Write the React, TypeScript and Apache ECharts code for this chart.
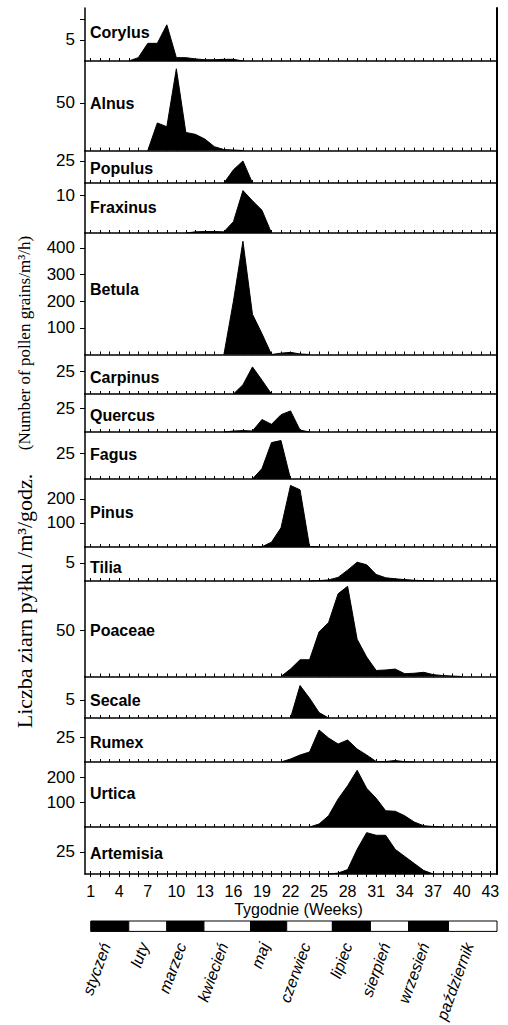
import React, { useEffect, useRef } from "react";
import * as echarts from "echarts";

// ---------- data ----------
const speciesNames = [
  "Corylus", "Alnus", "Populus", "Fraxinus", "Betula", "Carpinus", "Quercus", "Fagus",
  "Pinus", "Tilia", "Poaceae", "Secale", "Rumex", "Urtica", "Artemisia",
];
// first week of each values list
const startWeeks = [5, 7, 15, 11, 15, 16, 15, 18, 18, 24, 21, 22, 21, 24, 26];

const corylus = [0, 0.8, 4.2, 4.2, 8.6, 0.8, 0.8, 0.5, 0.3, 0.3, 0.4, 0.4, 0];
const alnus = [0, 29, 25, 86, 19, 17, 12, 4, 1, 0.5, 0];
const populus = [0, 15, 25, 0];
const fraxinus = [0, 0.3, 0.4, 0.4, 0.3, 3, 11.2, 8.5, 6, 0];
const betula = [0, 200, 425, 151, 78, 0, 5, 8, 2, 0];
const carpinus = [0, 10, 29.5, 15, 0];
const quercus = [0, 1, 1.5, 1, 13, 8, 18, 22, 2, 0];
const fagus = [0, 10, 35, 37, 0];
const pinus = [0, 1, 20, 80, 256, 238, 2, 0];
const tilia = [0, 0.1, 0.3, 1, 3, 5.2, 4.5, 1.8, 0.9, 0.6, 0.4, 0.2, 0.1, 0];
const poaceae = [0, 8, 18, 18, 48, 58, 89, 97, 40, 21, 6.5, 7, 8, 3, 3.5, 4.5, 2, 1, 0.5, 0];
const secale = [0, 9, 5.5, 1.5, 0];
const rumex = [0, 3, 7, 10, 32, 24, 18, 22, 13, 7, 0.5, 0.5, 1.5, 0.3, 0];
const urtica = [0, 12, 45, 112, 165, 227, 155, 115, 65, 63, 45, 20, 5, 2, 0];
const artemisia = [0, 1, 5, 28, 47, 44, 44, 28, 20, 12, 4, 0];

const speciesValues = [
  corylus, alnus, populus, fraxinus, betula, carpinus, quercus, fagus,
  pinus, tilia, poaceae, secale, rumex, urtica, artemisia,
];

// y-axis labels / ticks / max of each panel
const yLabelValues = [[5], [50], [25], [10], [100, 200, 300, 400], [25], [25], [25], [100, 200], [5], [50], [5], [25], [100, 200], [25]];
const yTickValues = [[5, 10], [50], [25], [10], [100, 200, 300, 400], [25], [25], [25], [100, 200], [5], [50], [5], [25], [100, 200], [25]];
const yMax = [12.6, 94.2, 36.9, 13.2, 456, 43, 39.6, 45.2, 283, 9.4, 102.7, 11.5, 44, 260, 53.4];

const weekTicks = Array.from({ length: 43 }, (_, i) => i + 1);
const weekLabels = [1, 4, 7, 10, 13, 16, 19, 22, 25, 28, 31, 34, 37, 40, 43];

const months = ["styczeń", "luty", "marzec", "kwiecień", "maj", "czerwiec", "lipiec", "sierpień", "wrzesień", "październik"];
const monthEdges = [1, 5, 9, 12.9, 17.8, 21.6, 26.4, 30.4, 34.4, 38.6, 43.7];

// ---------- layout ----------
const TOP = 8;
const baselines = [61, 150.5, 183, 233, 354.5, 394, 432, 479, 547, 581, 676.5, 718, 762, 827, 874];
const LEFT = 85;
const WIDTH = 412;
const XMIN = 0.4;
const XMAX = 43.7;
const labelCenters = [32, 103, 168, 207, 289, 377, 415, 454, 512, 567, 630, 700, 742, 793, 853];

const SANS = "Liberation Sans";
const SERIF = "Liberation Serif";

export default function App() {
  const ref = useRef<HTMLDivElement>(null);

  useEffect(() => {
    if (!ref.current) return;
    const chart = echarts.init(ref.current, null, { renderer: "svg" });

    const grids: any[] = [];
    const xAxes: any[] = [];
    const yAxes: any[] = [];
    const series: any[] = [];
    const graphics: any[] = [];
    const n = speciesNames.length;

    speciesNames.forEach((name, i) => {
      const top = i === 0 ? TOP : baselines[i - 1];
      const h = baselines[i] - top;
      grids.push({ left: LEFT, top, width: WIDTH, height: h, containLabel: false });
      xAxes.push({
        type: "value",
        gridIndex: i,
        min: XMIN,
        max: XMAX,
        axisLine: { show: true, onZero: false, lineStyle: { color: "#000", width: 1.5 } },
        axisTick: { show: true, inside: true, length: 3, customValues: weekTicks, lineStyle: { color: "#000", width: 1 } },
        axisLabel: { show: false },
        splitLine: { show: false },
      });
      yAxes.push({
        type: "value",
        gridIndex: i,
        min: 0,
        max: yMax[i],
        position: "left",
        axisLine: { show: true, lineStyle: { color: "#000", width: 1.5 } },
        axisTick: { show: true, length: 5, customValues: yTickValues[i], lineStyle: { color: "#000", width: 1 } },
        axisLabel: {
          show: true,
          customValues: yLabelValues[i],
          margin: 10,
          fontSize: 17,
          fontFamily: SANS,
          color: "#000",
        },
        splitLine: { show: false },
      });
      yAxes.push({
        type: "value",
        gridIndex: i,
        min: 0,
        max: yMax[i],
        position: "right",
        axisLine: { show: true, lineStyle: { color: "#000", width: 2 } },
        axisTick: { show: false },
        axisLabel: { show: false },
        splitLine: { show: false },
      });
      const vals = speciesValues[i];
      series.push({
        type: "line",
        xAxisIndex: i,
        yAxisIndex: 2 * i,
        data: vals.map((v, k) => [startWeeks[i] + k, v]),
        symbol: "none",
        silent: true,
        lineStyle: { color: "#000", width: 1 },
        areaStyle: { color: "#000", opacity: 1 },
      });
      graphics.push({
        type: "text",
        x: 90,
        y: labelCenters[i],
        style: {
          text: name,
          fontSize: 16,
          fontWeight: "bold",
          fontFamily: SANS,
          fill: "#000",
          verticalAlign: "middle",
          align: "left",
        },
      });
    });

    // bottom panel: outward ticks + week labels
    xAxes.push({
      type: "value",
      gridIndex: n - 1,
      min: XMIN,
      max: XMAX,
      position: "bottom",
      offset: 0,
      axisLine: { show: false },
      axisTick: { show: true, inside: false, length: 3, customValues: weekTicks, lineStyle: { color: "#000", width: 1 } },
      axisLabel: { show: true, customValues: weekLabels, margin: 9, fontSize: 16, fontFamily: SANS, color: "#000" },
      splitLine: { show: false },
      name: "Tygodnie (Weeks)",
      nameLocation: "middle",
      nameGap: 27,
      nameTextStyle: { fontSize: 16, fontFamily: SANS, color: "#000", padding: [0, 0, 0, 15] },
    });

    // month bar
    const monthGrid = n;
    grids.push({ left: LEFT, top: 921, width: WIDTH, height: 12 });
    const monthCenters = months.map((_, i) => (monthEdges[i] + monthEdges[i + 1]) / 2 - 0.4);
    xAxes.push({
      type: "value",
      gridIndex: monthGrid,
      min: XMIN,
      max: XMAX,
      axisLine: { show: false },
      axisTick: { show: false },
      splitLine: { show: false },
      axisLabel: {
        show: true,
        customValues: monthCenters,
        formatter: (v: number) => {
          const idx = monthCenters.findIndex((c) => Math.abs(c - v) < 1e-6);
          return idx >= 0 ? months[idx] : "";
        },
        rotate: 70,
        margin: 12,
        fontSize: 16,
        fontStyle: "italic",
        fontFamily: SANS,
        color: "#000",
      },
    });
    yAxes.push({ type: "value", gridIndex: monthGrid, min: 0, max: 1, show: false });
    series.push({
      type: "custom",
      xAxisIndex: xAxes.length - 1,
      yAxisIndex: yAxes.length - 1,
      silent: true,
      data: months.map((_, i) => [monthEdges[i], monthEdges[i + 1], i % 2]),
      encode: { x: [0, 1] },
      renderItem: (_params: any, api: any) => {
        const s = api.coord([api.value(0), 1]);
        const e = api.coord([api.value(1), 0]);
        return {
          type: "rect",
          shape: { x: s[0], y: s[1], width: e[0] - s[0], height: e[1] - s[1] },
          style: { fill: api.value(2) === 0 ? "#000" : "#fff", stroke: "#000", lineWidth: 1 },
        };
      },
    });

    // y-axis title
    graphics.push({
      type: "text",
      x: 24,
      y: 601,
      rotation: Math.PI / 2,
      style: {
        text: "Liczba ziarn pyłku /m³/godz.",
        fontSize: 22,
        fontFamily: SERIF,
        fill: "#000",
        align: "center",
        verticalAlign: "middle",
      },
    });
    graphics.push({
      type: "text",
      x: 24,
      y: 343,
      rotation: Math.PI / 2,
      style: {
        text: "(Number of pollen grains/m³/h)",
        fontSize: 17,
        fontFamily: SERIF,
        fill: "#000",
        align: "center",
        verticalAlign: "middle",
      },
    });

    chart.setOption({
      animation: false,
      backgroundColor: "#fff",
      grid: grids,
      xAxis: xAxes,
      yAxis: yAxes,
      series,
      graphic: graphics,
    });

    return () => chart.dispose();
  }, []);

  return <div ref={ref} style={{ position: "absolute", left: 0, top: 0, width: 508, height: 1025 }} />;
}
